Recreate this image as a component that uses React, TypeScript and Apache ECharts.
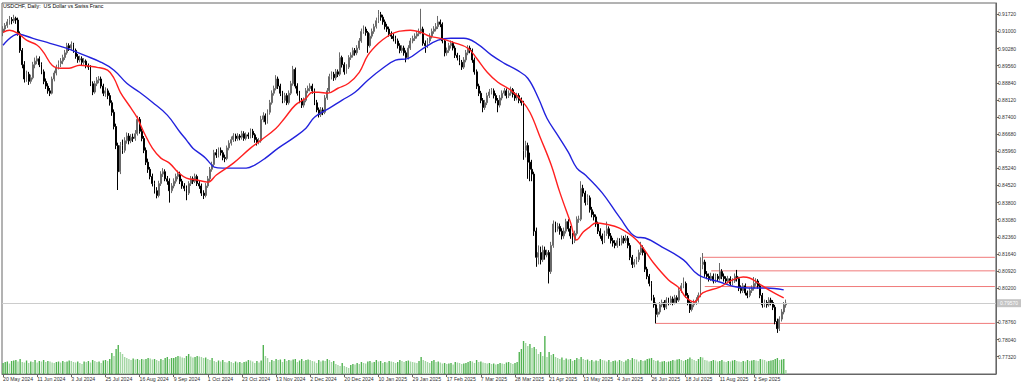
import React, { useEffect, useRef } from "react";
import * as echarts from "echarts";

const chartTitle = "USDCHF, Daily:  US Dollar vs Swiss Franc";
const xLabels = [
  "20 May 2024", "11 Jun 2024", "3 Jul 2024", "25 Jul 2024", "16 Aug 2024", "9 Sep 2024",
  "1 Oct 2024", "23 Oct 2024", "13 Nov 2024", "2 Dec 2024", "20 Dec 2024", "10 Jan 2025",
  "29 Jan 2025", "17 Feb 2025", "7 Mar 2025", "28 Mar 2025", "21 Apr 2025", "13 May 2025",
  "4 Jun 2025", "26 Jun 2025", "18 Jul 2025", "11 Aug 2025", "2 Sep 2025",
];
const LABEL_EVERY = 16;
const SLOT_COUNT = 466;
const categories = Array.from({ length: SLOT_COUNT }, (_, i) => "b" + i);

const priceTicks = [
  0.7732, 0.7804, 0.7876, 0.7948, 0.802, 0.8092, 0.8164, 0.8236, 0.8308, 0.838, 0.8452,
  0.8524, 0.8596, 0.8668, 0.874, 0.8812, 0.8884, 0.8956, 0.9028, 0.91, 0.9172,
];

// [open, close, low, high] in 1/10000
const candlesPips = [
  [9095,9110,9080,9122],[9110,9125,9100,9135],[9125,9140,9115,9152],[9140,9150,9128,9165],[9150,9145,9130,9160],
  [9145,9155,9135,9170],[9155,9148,9132,9162],[9148,9090,9082,9158],[9090,9020,9010,9100],[9020,8960,8945,9030],
  [8960,8900,8885,8975],[8900,8920,8888,8935],[8920,8890,8875,8930],[8890,8905,8880,8918],[8905,8960,8898,8972],
  [8960,8975,8945,8990],[8975,8985,8962,8998],[8985,8960,8950,8995],[8960,8930,8920,8970],[8930,8890,8878,8940],
  [8890,8870,8858,8902],[8870,8850,8838,8882],[8850,8840,8828,8862],[8840,8900,8835,8910],[8900,8925,8890,8935],
  [8925,8950,8915,8960],[8950,8965,8940,8978],[8965,8975,8950,8988],[8975,8990,8962,9002],[8990,9010,8980,9022],
  [9010,9040,9002,9052],[9040,9030,9018,9050],[9030,9045,9020,9058],[9045,9020,9010,9052],[9020,8995,8985,9028],
  [8995,8980,8968,9005],[8980,8985,8970,8998],[8985,8970,8958,8995],[8970,8975,8960,8988],[8975,8955,8945,8982],
  [8955,8950,8938,8965],[8950,8880,8870,8958],[8880,8845,8832,8890],[8845,8880,8838,8892],[8880,8895,8870,8908],
  [8895,8900,8882,8912],[8900,8870,8860,8910],[8870,8840,8828,8880],[8840,8850,8825,8865],[8850,8830,8815,8860],
  [8830,8800,8788,8842],[8800,8760,8745,8810],[8760,8700,8688,8772],[8700,8620,8605,8712],[8620,8510,8433,8632],
  [8510,8620,8500,8635],[8620,8600,8585,8645],[8600,8640,8590,8655],[8640,8660,8628,8675],[8660,8640,8625,8672],
  [8640,8655,8630,8668],[8655,8650,8635,8670],[8650,8670,8640,8685],[8670,8730,8662,8745],[8730,8680,8670,8740],
  [8680,8650,8638,8692],[8650,8600,8588,8660],[8600,8550,8538,8612],[8550,8520,8505,8565],[8520,8490,8478,8530],
  [8490,8460,8448,8502],[8460,8430,8418,8472],[8430,8410,8398,8445],[8410,8460,8402,8472],[8460,8500,8450,8512],
  [8500,8510,8488,8525],[8510,8480,8470,8520],[8480,8470,8455,8492],[8470,8430,8380,8482],[8430,8450,8420,8462],
  [8450,8470,8440,8482],[8470,8490,8460,8502],[8490,8500,8478,8515],[8500,8470,8458,8510],[8470,8450,8438,8480],
  [8450,8440,8428,8462],[8440,8420,8390,8452],[8420,8460,8412,8470],[8460,8480,8450,8492],[8480,8470,8458,8490],
  [8470,8490,8462,8502],[8490,8460,8450,8498],[8460,8450,8438,8472],[8450,8420,8408,8460],[8420,8410,8395,8432],
  [8410,8450,8402,8462],[8450,8480,8442,8492],[8480,8520,8470,8530],[8520,8540,8510,8552],[8540,8590,8532,8602],
  [8590,8580,8568,8605],[8580,8600,8570,8612],[8600,8590,8578,8612],[8590,8570,8558,8600],[8570,8565,8550,8582],
  [8565,8610,8558,8620],[8610,8630,8600,8642],[8630,8645,8620,8658],[8645,8660,8635,8672],[8660,8650,8638,8670],
  [8650,8660,8640,8672],[8660,8655,8642,8668],[8655,8670,8645,8682],[8670,8650,8640,8680],[8650,8665,8642,8675],
  [8665,8660,8648,8675],[8660,8680,8650,8692],[8680,8665,8652,8690],[8665,8645,8632,8672],[8645,8635,8620,8655],
  [8635,8640,8625,8652],[8640,8730,8632,8745],[8730,8745,8718,8760],[8745,8720,8708,8755],[8720,8760,8712,8772],
  [8760,8800,8750,8812],[8800,8840,8792,8852],[8840,8860,8830,8872],[8860,8900,8852,8916],[8900,8870,8858,8910],
  [8870,8840,8828,8880],[8840,8810,8798,8850],[8810,8830,8800,8842],[8830,8800,8790,8840],[8800,8840,8792,8852],
  [8840,8880,8832,8892],[8880,8940,8872,8955],[8940,8870,8860,8948],[8870,8840,8830,8882],[8840,8810,8798,8850],
  [8810,8790,8778,8820],[8790,8810,8780,8822],[8810,8850,8802,8862],[8850,8860,8840,8872],[8860,8870,8848,8882],
  [8870,8850,8838,8880],[8850,8800,8790,8860],[8800,8770,8760,8812],[8770,8750,8738,8780],[8750,8770,8740,8782],
  [8770,8760,8748,8780],[8760,8820,8752,8832],[8820,8850,8812,8862],[8850,8910,8842,8922],[8910,8920,8898,8932],
  [8920,8905,8892,8930],[8905,8930,8895,8942],[8930,8920,8908,8940],[8920,8990,8912,9012],[8990,8960,8948,8998],
  [8960,8930,8918,8970],[8930,8950,8922,8962],[8950,8990,8942,9000],[8990,9000,8980,9012],[9000,9020,8990,9032],
  [9020,9010,8998,9030],[9010,9030,9000,9042],[9030,9060,9022,9072],[9060,9100,9052,9112],[9100,9110,9090,9125],
  [9110,9095,9082,9120],[9095,9040,9010,9102],[9040,9080,9032,9092],[9080,9100,9070,9112],[9100,9120,9090,9132],
  [9120,9145,9112,9158],[9145,9170,9135,9190],[9170,9160,9145,9182],[9160,9140,9128,9170],[9140,9120,9108,9150],
  [9120,9110,9098,9132],[9110,9090,9078,9120],[9090,9080,9068,9100],[9080,9070,9058,9092],[9070,9060,9048,9082],
  [9060,9040,9028,9070],[9040,9020,9008,9050],[9020,9030,9010,9042],[9030,9010,8998,9040],[9010,8990,8970,9020],
  [8990,9030,8982,9042],[9030,9060,9022,9072],[9060,9070,9050,9082],[9070,9080,9060,9092],[9080,9090,9070,9102],
  [9090,9100,9080,9112],[9100,9110,9088,9195],[9110,9050,9040,9120],[9050,9040,9010,9062],[9040,9060,9030,9072],
  [9060,9080,9050,9092],[9080,9100,9070,9112],[9100,9110,9090,9122],[9110,9120,9100,9135],[9120,9140,9110,9165],
  [9140,9130,9118,9150],[9130,9060,9050,9138],[9060,9010,8995,9070],[9010,9020,8998,9032],[9020,9040,9010,9052],
  [9040,9050,9028,9062],[9050,9030,9020,9058],[9030,9000,8988,9040],[9000,8990,8978,9010],[8990,8970,8958,9000],
  [8970,8950,8938,8980],[8950,8980,8942,8992],[8980,9010,8970,9022],[9010,9030,9000,9042],[9030,9020,9008,9040],
  [9020,8980,8968,9028],[8980,8930,8918,8990],[8930,8870,8858,8940],[8870,8840,8828,8880],[8840,8810,8798,8850],
  [8810,8780,8760,8820],[8780,8800,8770,8812],[8800,8830,8790,8842],[8830,8845,8820,8858],[8845,8850,8835,8862],
  [8850,8830,8818,8860],[8830,8810,8798,8840],[8810,8790,8760,8820],[8790,8820,8780,8832],[8820,8840,8810,8852],
  [8840,8850,8830,8862],[8850,8830,8818,8860],[8830,8840,8820,8852],[8840,8855,8830,8868],[8855,8835,8822,8862],
  [8835,8820,8808,8845],[8820,8830,8810,8842],[8830,8810,8798,8840],[8810,8800,8788,8822],[8800,8600,8560,8808],
  [8600,8620,8570,8640],[8620,8550,8480,8632],[8550,8520,8470,8590],[8520,8500,8470,8560],[8500,8260,8240,8510],
  [8260,8150,8110,8275],[8150,8170,8120,8200],[8170,8140,8120,8195],[8140,8180,8130,8200],[8180,8160,8140,8195],
  [8160,8170,8150,8182],[8170,8090,8040,8180],[8090,8200,8080,8215],[8200,8290,8190,8305],[8290,8270,8255,8300],
  [8270,8280,8258,8295],[8280,8260,8245,8292],[8260,8240,8225,8272],[8240,8260,8228,8275],[8260,8300,8250,8312],
  [8300,8270,8258,8310],[8270,8240,8228,8282],[8240,8220,8205,8252],[8220,8250,8210,8262],[8250,8310,8242,8322],
  [8310,8310,8295,8325],[8310,8440,8302,8470],[8440,8420,8405,8455],[8420,8380,8368,8430],[8380,8400,8370,8415],
  [8400,8350,8338,8410],[8350,8330,8318,8362],[8330,8320,8305,8342],[8320,8290,8278,8330],[8290,8260,8248,8300],
  [8260,8240,8228,8272],[8240,8220,8205,8250],[8220,8250,8210,8262],[8250,8270,8240,8300],[8270,8240,8228,8280],
  [8240,8220,8208,8252],[8220,8210,8195,8232],[8210,8200,8188,8222],[8200,8220,8190,8232],[8220,8210,8198,8230],
  [8210,8230,8200,8242],[8230,8220,8208,8240],[8220,8230,8210,8245],[8230,8200,8188,8240],[8200,8150,8138,8210],
  [8150,8120,8105,8160],[8120,8130,8108,8142],[8130,8140,8120,8152],[8140,8170,8130,8182],[8170,8190,8160,8215],
  [8190,8170,8158,8200],[8170,8100,8088,8180],[8100,8070,8058,8110],[8070,8040,8028,8080],[8040,7980,7968,8050],
  [7980,7950,7938,7992],[7950,7910,7872,7960],[7910,7920,7898,7935],[7920,7950,7910,7962],[7950,7960,7940,7972],
  [7960,7940,7928,7970],[7940,7970,7932,7982],[7970,7960,7948,7980],[7960,7975,7950,7988],[7975,7960,7948,7985],
  [7960,7980,7952,7992],[7980,7970,7958,7990],[7970,8010,7962,8022],[8010,8030,8000,8042],[8030,8040,8020,8065],
  [8040,7990,7980,8048],[7990,7960,7948,8000],[7960,7930,7916,7970],[7930,7950,7922,7962],[7950,7960,7940,7972],
  [7960,7970,7950,7982],[7970,7990,7960,8002],[7990,8120,7982,8150],[8120,8130,8100,8168],[8130,8080,8068,8140],
  [8080,8070,8058,8092],[8070,8060,8048,8082],[8060,8070,8050,8085],[8070,8050,8040,8082],[8050,8070,8042,8082],
  [8070,8060,8048,8080],[8060,8090,8052,8126],[8090,8070,8058,8100],[8070,8060,8048,8082],[8060,8050,8038,8070],
  [8050,8060,8040,8072],[8060,8040,8030,8070],[8040,8050,8032,8062],[8050,8070,8042,8082],[8070,8060,8048,8097],
  [8060,8020,8008,8068],[8020,8010,7998,8032],[8010,8030,8000,8042],[8030,8000,7990,8040],[8000,7990,7978,8010],
  [7990,8010,7982,8022],[8010,8020,8000,8032],[8020,8040,8010,8067],[8040,8050,8030,8062],[8050,8030,8018,8058],
  [8030,7990,7978,8040],[7990,7950,7938,8000],[7950,7960,7940,7972],[7960,7950,7938,7970],[7950,7970,7942,7982],
  [7970,7960,7948,7980],[7960,7940,7928,7970],[7940,7880,7868,7950],[7880,7850,7832,7892],[7850,7890,7840,7902],
  [7890,7920,7880,7932],[7920,7950,7910,7962],[7950,7957,7938,7972],
];

// tick volumes, thousands
const volumes = [
  110,120,125,105,130,135,140,125,150,120,115,135,110,125,120,140,
  115,130,125,140,120,130,125,115,110,120,125,115,130,120,125,135,
  130,120,115,125,110,100,125,120,130,115,140,130,120,125,110,135,
  140,130,150,210,180,250,290,220,200,170,160,150,140,155,145,150,
  140,150,145,150,160,155,145,150,140,130,150,140,160,170,150,160,
  160,170,180,175,165,160,180,200,175,165,170,180,175,170,160,165,
  150,140,160,130,120,135,125,140,120,115,130,120,110,125,115,120,
  110,120,125,140,135,125,110,130,115,135,290,180,160,120,140,130,
  150,140,145,120,150,130,140,135,145,150,120,135,150,130,140,145,
  140,130,125,110,140,125,135,130,150,140,120,130,100,90,80,110,
  80,70,60,90,100,95,110,100,120,110,105,125,130,115,120,140,
  125,130,110,120,115,130,125,120,110,120,140,130,120,130,135,125,
  120,115,110,130,170,140,130,120,110,130,140,120,125,115,105,110,
  100,105,110,95,120,115,110,100,105,110,120,130,125,110,140,120,
  125,115,110,105,110,100,105,95,100,110,105,100,115,120,110,100,
  110,120,220,250,330,310,280,300,260,270,250,200,220,180,380,170,
  220,190,200,170,160,150,165,140,155,145,150,130,140,160,150,170,
  150,140,145,130,140,125,135,130,150,140,135,125,140,120,130,135,
  125,140,130,120,135,150,140,160,150,145,125,140,130,135,150,155,
  160,140,130,135,120,125,130,120,125,130,140,135,145,150,140,130,
  140,150,165,150,140,130,150,170,165,140,135,125,130,140,135,125,
  130,140,125,120,130,125,135,140,130,125,120,130,125,140,130,135,
  140,135,130,150,145,140,125,130,135,140,150,160,140,145,150,40,
];

// moving averages: [bar index, price]
const redMA = [
  [0,.9096],[3,.9105],[7,.9092],[11,.9063],[16,.9042],[19,.9012],[23,.8958],[27,.8945],[31,.8945],
  [36,.8958],[44,.8949],[49,.8937],[52,.8903],[55,.8844],[60,.8777],[63,.8735],[66,.8676],[70,.8609],
  [74,.8567],[78,.8546],[82,.8508],[86,.8483],[91,.8475],[96,.8466],[100,.8496],[108,.8546],[116,.8609],
  [121,.8643],[128,.8693],[132,.8735],[137,.8790],[142,.8819],[145,.8844],[148,.8844],[152,.8840],
  [157,.8861],[162,.8882],[167,.8928],[171,.8999],[176,.9050],[181,.9084],[184,.9096],[186,.9101],
  [191,.9105],[196,.9096],[200,.9080],[205,.9071],[211,.9054],[218,.9029],[222,.8987],[227,.8928],
  [232,.8886],[238,.8853],[243,.8811],[247,.8760],[252,.8651],[257,.8538],[261,.8424],[266,.8298],
  [269,.8223],[272,.8256],[275,.8277],[278,.8294],[282,.8290],[289,.8273],[297,.8223],[305,.8126],
  [312,.8055],[317,.8021],[320,.7983],[324,.7962],[328,.8000],[336,.8025],[342,.8055],[347,.8067],
  [350,.8063],[354,.8042],[359,.8013],[366,.7979],
];
const blueMA = [
  [0,.9042],[7,.9088],[14,.9071],[22,.9050],[30,.9029],[38,.9000],[46,.8970],[52,.8937],[58,.8882],
  [64,.8844],[70,.8802],[77,.8748],[83,.8676],[86,.8643],[89,.8609],[92,.8588],[95,.8567],[97,.8546],
  [99,.8529],[103,.8525],[108,.8525],[114,.8525],[118,.8538],[123,.8567],[129,.8609],[136,.8651],
  [142,.8693],[146,.8739],[153,.8777],[159,.8811],[165,.8844],[171,.8895],[178,.8945],[184,.8979],
  [190,.8987],[197,.9029],[204,.9063],[210,.9071],[216,.9071],[222,.9050],[229,.9000],[235,.8966],
  [241,.8937],[246,.8903],[251,.8819],[255,.8735],[260,.8664],[265,.8592],[269,.8525],[273,.8496],
  [281,.8420],[289,.8319],[297,.8235],[301,.8231],[309,.8193],[319,.8139],[326,.8076],[336,.8046],
  [344,.8025],[352,.8021],[358,.8021],[366,.8013],
];

// horizontal levels: [start bar index, price]
const levels = [
  [328, 0.8150],
  [332, 0.8093],
  [329, 0.8027],
  [306, 0.7872],
];

export default function App() {
  const ref = useRef<HTMLDivElement>(null);
  useEffect(() => {
    if (!ref.current) return;
    const chart = echarts.init(ref.current, null, { renderer: "svg" });
    const candles = candlesPips.map((r) => r.map((v) => v / 10000));
    const lastClose = candles[candles.length - 1][1];
    const volData = volumes.map((v, i) => ({
      value: v,
      itemStyle: { color: i > 0 && v < volumes[i - 1] ? "#a3d6a3" : "#52b352" },
    }));
    const font = "Liberation Sans";
    const showLabel = (i: number) => i % LABEL_EVERY === 0 && i / LABEL_EVERY < xLabels.length;
    const lastSlot = SLOT_COUNT - 1;
    const yMin = 0.76592;
    const yMax = 0.92195;

    const levelSeries = levels.map(([start, price]) => ({
      type: "line",
      xAxisIndex: 0,
      yAxisIndex: 0,
      data: [[start, price], [lastSlot, price]],
      showSymbol: false,
      silent: true,
      lineStyle: { color: "#f07a7a", width: 1 },
      z: 2,
    }));

    chart.setOption({
      animation: false,
      backgroundColor: "#ffffff",
      title: {
        text: chartTitle,
        left: 3,
        top: 3,
        padding: 0,
        textStyle: { fontSize: 5.3, fontWeight: "normal", color: "#000", fontFamily: font },
      },
      grid: [
        { left: 2, top: 3, width: 994, height: 371, show: true, borderColor: "#666", borderWidth: 1, backgroundColor: "transparent" },
        { left: 2, top: 329, width: 994, height: 45 },
      ],
      xAxis: [
        {
          type: "category",
          gridIndex: 0,
          data: categories,
          boundaryGap: true,
          axisLine: { show: true, lineStyle: { color: "#666" } },
          axisTick: { show: true, alignWithLabel: true, interval: (i: number) => showLabel(i), length: 3, lineStyle: { color: "#666" } },
          axisLabel: {
            show: true,
            showMinLabel: true,
            hideOverlap: false,
            interval: (i: number) => showLabel(i),
            formatter: (_v: string, i: number) => xLabels[i / LABEL_EVERY] ?? "",
            align: "left",
            fontSize: 5.2,
            color: "#333",
            fontFamily: font,
            margin: 2,
          },
          splitLine: { show: false },
        },
        { type: "category", gridIndex: 1, data: categories, boundaryGap: true, show: false },
      ],
      yAxis: [
        {
          type: "value",
          gridIndex: 0,
          position: "right",
          min: yMin,
          max: yMax,
          axisLine: { show: true, lineStyle: { color: "#666" } },
          axisTick: { show: true, customValues: priceTicks, length: 3, lineStyle: { color: "#666" } },
          axisLabel: {
            show: true,
            customValues: priceTicks,
            formatter: (v: number) => v.toFixed(5),
            fontSize: 5,
            color: "#333",
            fontFamily: font,
            margin: 2,
          },
          splitLine: { show: false },
        },
        { type: "value", gridIndex: 1, min: 0, max: 450, show: false, splitLine: { show: false } },
        {
          type: "value",
          gridIndex: 0,
          position: "right",
          min: yMin,
          max: yMax,
          axisLine: { show: false },
          axisTick: { show: false },
          splitLine: { show: false },
          z: 10,
          axisLabel: {
            show: true,
            customValues: [lastClose],
            formatter: (v: number) => v.toFixed(5),
            fontSize: 5,
            color: "#ffffff",
            fontFamily: font,
            backgroundColor: "#c4c4c4",
            padding: [2, 3, 1, 3],
            margin: 1,
          },
        },
      ],
      series: [
        {
          type: "bar",
          xAxisIndex: 1,
          yAxisIndex: 1,
          data: volData,
          barWidth: 1.4,
          silent: true,
          z: 1,
        },
        ...levelSeries,
        {
          type: "candlestick",
          xAxisIndex: 0,
          yAxisIndex: 0,
          data: candles,
          barWidth: 1.4,
          itemStyle: {
            color: "#d8d8d8",
            color0: "#000000",
            borderColor: "#6a6a6a",
            borderColor0: "#000000",
            borderWidth: 1,
          },
          z: 3,
          markLine: {
            silent: true,
            symbol: ["none", "none"],
            animation: false,
            precision: 5,
            label: { show: false },
            lineStyle: { color: "#cccccc", type: "solid", width: 1 },
            data: [{ yAxis: lastClose }],
          },
        },
        {
          type: "line",
          xAxisIndex: 0,
          yAxisIndex: 0,
          data: blueMA,
          smooth: 0.4,
          showSymbol: false,
          lineStyle: { color: "#2222dd", width: 1.4 },
          z: 4,
          silent: true,
        },
        {
          type: "line",
          xAxisIndex: 0,
          yAxisIndex: 0,
          data: redMA,
          smooth: 0.4,
          showSymbol: false,
          lineStyle: { color: "#ff2020", width: 1.4 },
          z: 5,
          silent: true,
        },
      ],
    });
    return () => chart.dispose();
  }, []);

  return (
    <div
      ref={ref}
      style={{ position: "fixed", left: 0, top: 0, width: 1024, height: 385, background: "#fff" }}
    />
  );
}
